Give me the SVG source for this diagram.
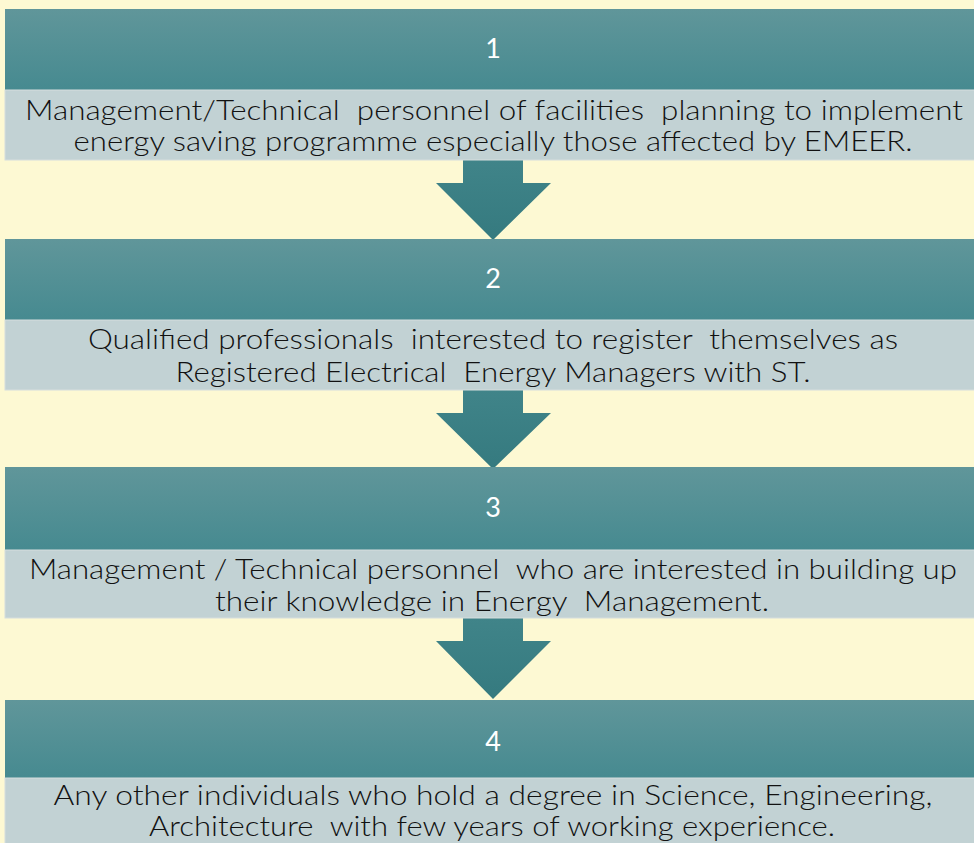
<svg xmlns="http://www.w3.org/2000/svg" width="974" height="843" viewBox="0 0 974 843">
  <defs>
    <linearGradient id="teal" x1="0" y1="0" x2="0" y2="1">
      <stop offset="0" stop-color="#60969A"/>
      <stop offset="1" stop-color="#468A90"/>
    </linearGradient>
    <linearGradient id="arr" x1="0" y1="0" x2="0" y2="1">
      <stop offset="0" stop-color="#408489"/>
      <stop offset="1" stop-color="#357A7F"/>
    </linearGradient>
    <style>
      .hd { fill: url(#teal); }
      .bd { fill: #C2D2D4; stroke: #D6DEDE; stroke-width: 1; }
      .num { font-family: Lato, "Open Sans", sans-serif; font-size: 27px; fill: #FFFFFF; text-anchor: middle; font-weight: 400; }
      .txt { font-family: Lato, "Open Sans", sans-serif; font-size: 28px; fill: #111111; text-anchor: middle; font-weight: 300; white-space: pre; }
      .ar { fill: url(#arr); }
    </style>
  </defs>
  <rect x="0" y="0" width="974" height="843" fill="#FDF9D3"/>

  <g id="connectors">
    <path class="ar" d="M463,160 H523 V183 H551 L493,240 L436,183 H463 Z"/>
    <path class="ar" d="M463,390 H523 V413 H551 L493,469 L436,413 H463 Z"/>
    <path class="ar" d="M463,618 H523 V641 H551 L493,699 L436,641 H463 Z"/>
  </g>

  <g id="node1">
    <rect class="hd" x="5" y="9" width="975" height="81"/>
    <rect class="bd" x="5" y="90" width="975" height="70"/>
    <text class="num" x="493" y="58">1</text>
    <text class="txt" x="494" y="120" textLength="938" lengthAdjust="spacingAndGlyphs" xml:space="preserve">Management/Technical  personnel of facilities  planning to implement</text>
    <text class="txt" x="493" y="151" textLength="839" lengthAdjust="spacingAndGlyphs">energy saving programme especially those affected by EMEER.</text>
  </g>

  <g id="node2">
    <rect class="hd" x="5" y="239" width="975" height="81"/>
    <rect class="bd" x="5" y="320" width="975" height="70"/>
    <text class="num" x="493" y="288">2</text>
    <text class="txt" x="493" y="349" textLength="810" lengthAdjust="spacingAndGlyphs" xml:space="preserve">Qualified professionals  interested to register  themselves as</text>
    <text class="txt" x="493" y="382" textLength="635" lengthAdjust="spacingAndGlyphs" xml:space="preserve">Registered Electrical  Energy Managers with ST.</text>
  </g>

  <g id="node3">
    <rect class="hd" x="5" y="467" width="975" height="83"/>
    <rect class="bd" x="5" y="550" width="975" height="68"/>
    <text class="num" x="493" y="517">3</text>
    <text class="txt" x="493" y="579" textLength="928" lengthAdjust="spacingAndGlyphs" xml:space="preserve">Management / Technical personnel  who are interested in building up</text>
    <text class="txt" x="492" y="611" textLength="554" lengthAdjust="spacingAndGlyphs" xml:space="preserve">their knowledge in Energy  Management.</text>
  </g>

  <g id="node4">
    <rect class="hd" x="5" y="700" width="975" height="78"/>
    <rect class="bd" x="5" y="778" width="975" height="70"/>
    <text class="num" x="493" y="751">4</text>
    <text class="txt" x="493" y="805" textLength="879" lengthAdjust="spacingAndGlyphs">Any other individuals who hold a degree in Science, Engineering,</text>
    <text class="txt" x="492" y="836" font-size="27" textLength="686" lengthAdjust="spacingAndGlyphs" xml:space="preserve">Architecture  with few years of working experience.</text>
  </g>
</svg>
